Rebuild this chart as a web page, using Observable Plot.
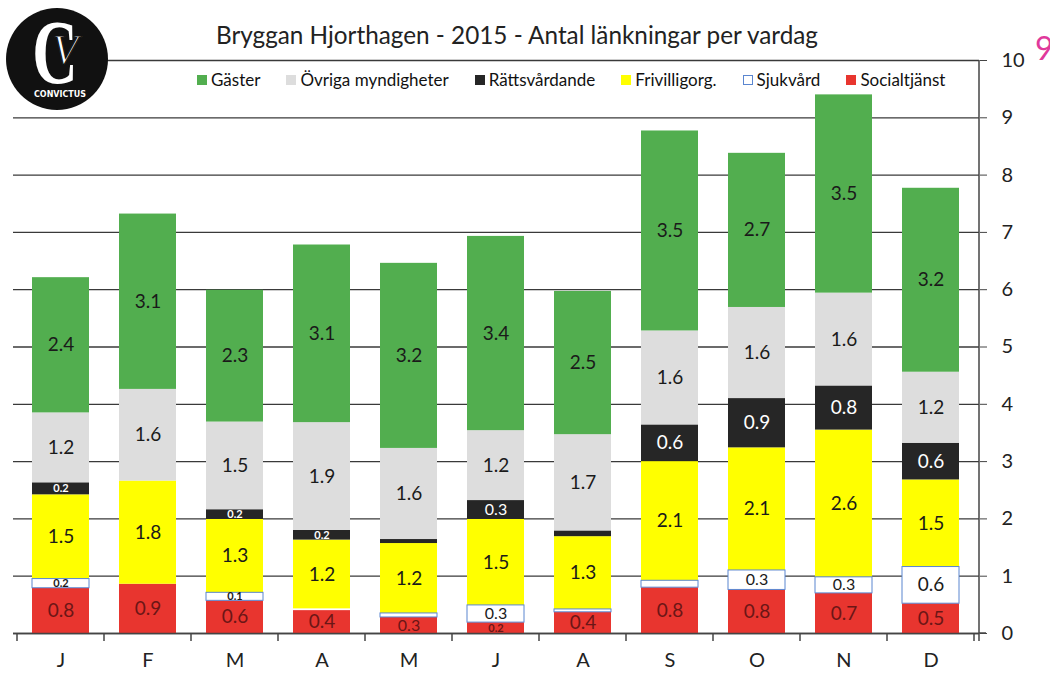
<!DOCTYPE html>
<html><head><meta charset="utf-8">
<script src="https://cdn.jsdelivr.net/npm/d3@7"></script>
<script src="https://cdn.jsdelivr.net/npm/@observablehq/plot@0.6"></script>
<style>
body{margin:0;background:#fff;font-family:Lato,"Open Sans",sans-serif;}
#wrap{position:relative;width:1050px;height:675px;overflow:hidden;background:#fff;}
#chart{position:absolute;left:0;top:0;}
#topline{position:absolute;left:0;top:9px;width:1050px;height:0;border-top:2px solid #666;}
#title{position:absolute;top:20px;left:0;width:1034px;text-align:center;font-size:24.3px;color:#222;}
#legend{position:absolute;top:69px;left:197px;display:flex;gap:26px;font-size:17px;color:#111;white-space:nowrap;}
.li{display:flex;align-items:center;}
.sw{width:10px;height:10px;margin-right:4px;box-sizing:border-box;}
#logo{position:absolute;left:0;top:0;}
#pink{position:absolute;left:1035px;top:32px;font-size:32px;color:#e0399b;line-height:1;}
</style></head><body>
<div id="wrap">
  <div id="topline"></div>
  <div id="chart"></div>
  <div id="title"></div>
  <div id="legend"></div>
  <svg id="logo" width="120" height="120">
    <circle cx="57" cy="59" r="51" fill="#111"/>
    <text transform="translate(55,83) scale(0.7,1)" text-anchor="middle" font-family="Liberation Serif" font-weight="bold" font-size="90" fill="#fff">C</text>
    <text x="65" y="64" text-anchor="middle" font-family="Liberation Serif" font-style="italic" font-size="42" fill="#fff" stroke="#111" stroke-width="1.2">V</text>
    <text x="60" y="97" text-anchor="middle" font-family="DejaVu Sans Condensed, DejaVu Sans" font-weight="bold" font-size="9.5" textLength="52" lengthAdjust="spacingAndGlyphs" fill="#fff">CONVICTUS</text>
  </svg>
  <div id="pink">9</div>
</div>
<script>
// ---- Data ----
const titleText = "Bryggan Hjorthagen - 2015 - Antal länkningar per vardag";
const months = ["Jan","Feb","Mar","Apr","Maj","Jun","Aug","Sep","Okt","Nov","Dec"];
const monthLabels = ["J","F","M","A","M","J","A","S","O","N","D"];
// stack order bottom -> top
const seriesNames = ["Socialtjänst","Sjukvård","Frivilligorg.","Rättsvårdande","Övriga myndigheter","Gäster"];
const legendOrder = ["Gäster","Övriga myndigheter","Rättsvårdande","Frivilligorg.","Sjukvård","Socialtjänst"];
const seriesColors = ["#e8352f","#ffffff","#ffff00","#262626","#dddddd","#52ae4f"];
const socialtjanst = [0.79, 0.86, 0.57, 0.40, 0.28, 0.19, 0.37, 0.80, 0.76, 0.70, 0.52];
const sjukvard     = [0.16, 0.00, 0.14, 0.03, 0.07, 0.30, 0.05, 0.12, 0.34, 0.28, 0.64];
const frivilligorg = [1.47, 1.80, 1.28, 1.20, 1.22, 1.50, 1.27, 2.08, 2.14, 2.57, 1.52];
const rattsvardande= [0.21, 0.00, 0.17, 0.17, 0.07, 0.33, 0.10, 0.64, 0.86, 0.77, 0.64];
const ovriga       = [1.22, 1.60, 1.53, 1.88, 1.59, 1.22, 1.68, 1.64, 1.59, 1.62, 1.24];
const gaster       = [2.36, 3.06, 2.30, 3.10, 3.23, 3.39, 2.50, 3.49, 2.69, 3.46, 3.21];
const yTicks = [0,1,2,3,4,5,6,7,8,9,10];

const valuesBySeries = {
  "Socialtjänst": socialtjanst, "Sjukvård": sjukvard, "Frivilligorg.": frivilligorg,
  "Rättsvårdande": rattsvardande, "Övriga myndigheter": ovriga, "Gäster": gaster
};
const rows = seriesNames.flatMap(s => months.map((m, i) => ({month: m, series: s, value: valuesBySeries[s][i]})));
const colorOf = Object.fromEntries(seriesNames.map((s, i) => [s, seriesColors[i]]));

document.getElementById("title").textContent = titleText;
const leg = document.getElementById("legend");
for (const s of legendOrder) {
  const it = document.createElement("div"); it.className = "li";
  const sw = document.createElement("div"); sw.className = "sw";
  sw.style.background = colorOf[s];
  if (s === "Sjukvård") sw.style.border = "1px solid #5b86d0";
  const t = document.createElement("span"); t.textContent = s;
  it.appendChild(sw); it.appendChild(t); leg.appendChild(it);
}

const fmt = d3.format(".1f");
const minLabel = 0.13;
const stackOpts = {x: "month", y: "value", z: "series", order: seriesNames};
const sizeClasses = [
  {test: v => v < 0.25, fontSize: 11, fontWeight: "bold"},
  {test: v => v >= 0.25 && v < 0.36, fontSize: 16, fontWeight: "normal"},
  {test: v => v >= 0.36, fontSize: 19, fontWeight: "normal"}
];
const colorClasses = [
  {test: s => s === "Rättsvårdande", fill: "#ffffff"},
  {test: s => s === "Socialtjänst", fill: "#6b1616"},
  {test: s => s !== "Rättsvårdande" && s !== "Socialtjänst", fill: "#1a1a1a"}
];
const labelMarks = [];
for (const sc of sizeClasses) for (const cc of colorClasses) {
  labelMarks.push(Plot.text(rows, Plot.stackY({
    ...stackOpts,
    text: d => (d.value >= minLabel && sc.test(d.value) && cc.test(d.series)) ? fmt(d.value) : "",
    fill: cc.fill, fontSize: sc.fontSize, fontWeight: sc.fontWeight
  })));
}

const plot = Plot.plot({
  width: 1050, height: 675,
  marginTop: 60, marginBottom: 42, marginLeft: 13, marginRight: 71,
  style: {fontFamily: "Lato, 'Open Sans', sans-serif", background: "white", color: "#222"},
  x: {type: "band", domain: months, paddingInner: 0.34, paddingOuter: 0.17, label: null},
  y: {domain: [0, 10], label: null},
  color: {domain: seriesNames, range: seriesColors},
  marks: [
    Plot.gridY(yTicks, {stroke: "#3a3a3a", strokeOpacity: 1, strokeWidth: 1.3}),
    Plot.barY(rows, Plot.stackY({...stackOpts, fill: "series"})),
    Plot.barY(rows, Plot.stackY({...stackOpts, fill: "none", stroke: "#5b86d0", strokeWidth: 1,
      strokeOpacity: d => (d.series === "Sjukvård" && d.value > 0.04) ? 1 : 0})),
    ...labelMarks,
    Plot.ruleY([0], {stroke: "#444", strokeWidth: 1.5}),
    Plot.axisX({tickSize: 0, tickPadding: 19, fontSize: 20, tickFormat: d => monthLabels[months.indexOf(d)], label: null}),
    Plot.axisY({anchor: "right", ticks: yTicks, tickSize: 7, tickPadding: 15, fontSize: 20, label: null, stroke: "#444"})
  ]
});
document.getElementById("chart").appendChild(plot);

// axis decorations drawn from Plot's own scales
const xs = plot.scale("x"), ys = plot.scale("y");
const svg = d3.select(plot);
const n = months.length;
const firstStart = xs.apply(months[0]) - (xs.step - xs.bandwidth) / 2;
const y0 = ys.apply(0), yTop = ys.apply(10);
const g = svg.append("g").attr("stroke", "#444").attr("stroke-width", 1.5);
for (let k = 0; k <= n; k++) {
  const bx = firstStart + k * xs.step;
  g.append("line").attr("x1", bx).attr("x2", bx).attr("y1", y0).attr("y2", y0 + 8);
}
const axisX = xs.range[1];
g.append("line").attr("x1", axisX).attr("x2", axisX).attr("y1", yTop).attr("y2", y0 + 8);
g.append("line").attr("x1", axisX).attr("x2", axisX + 7).attr("y1", y0).attr("y2", y0);
</script>
</body></html>
